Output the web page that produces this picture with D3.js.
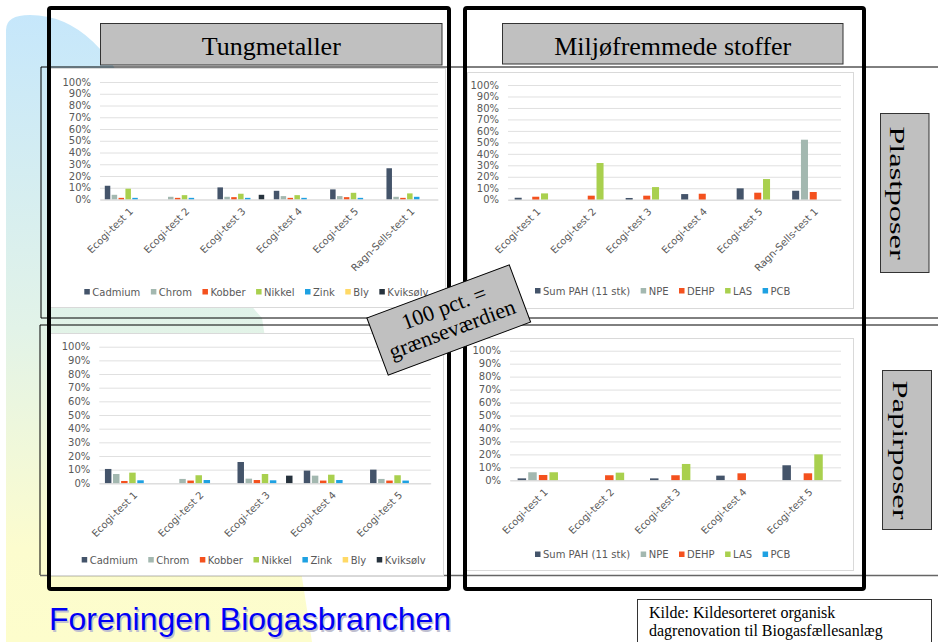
<!DOCTYPE html>
<html>
<head>
<meta charset="utf-8">
<script src="https://cdn.jsdelivr.net/npm/d3@7"></script>
<style>
body { margin: 0; background: #fff; }
svg { display: block; }
</style>
</head>
<body>
<svg width="938" height="642"></svg>
<script>
// Series and categories
var metals = ["Cadmium", "Chrom", "Kobber", "Nikkel", "Zink", "Bly", "Kviksølv"];
var organics = ["Sum PAH (11 stk)", "NPE", "DEHP", "LAS", "PCB"];
var plastTests = ["Ecogi-test 1", "Ecogi-test 2", "Ecogi-test 3", "Ecogi-test 4", "Ecogi-test 5", "Ragn-Sells-test 1"];
var paperTests = ["Ecogi-test 1", "Ecogi-test 2", "Ecogi-test 3", "Ecogi-test 4", "Ecogi-test 5"];
var yTicks = [0, 10, 20, 30, 40, 50, 60, 70, 80, 90, 100];

// values in % of limit value, one row per series
var plastMetals = [
    [11.7, 0, 10.3, 7.4, 8.6, 26.6],   // Cadmium
    [4.0, 2.3, 2.3, 2.9, 2.9, 2.3],    // Chrom
    [1.4, 1.4, 2.0, 1.4, 2.0, 1.4],    // Kobber
    [9.2, 3.7, 4.9, 3.7, 5.7, 5.2],    // Nikkel
    [1.4, 1.4, 1.4, 1.4, 1.4, 2.3],    // Zink
    [0, 0, 0, 0, 0, 0],                // Bly
    [0, 0, 4.0, 0, 0, 0]               // Kviksølv
];
var plastOrganics = [
    [1.7, 0, 1.5, 4.9, 9.9, 7.8],      // Sum PAH
    [0, 0, 0, 0, 0, 52.3],             // NPE
    [2.6, 3.5, 3.5, 5.2, 6.1, 6.7],    // DEHP
    [5.5, 32, 11, 0, 18, 0],           // LAS
    [0, 0, 0, 0, 0, 0]                 // PCB
];
var paperMetals = [
    [10.5, 0, 15.6, 9.3, 10.0],
    [6.8, 3.2, 3.4, 5.6, 3.2],
    [1.7, 2.0, 2.4, 2.0, 2.0],
    [7.8, 5.9, 6.8, 6.3, 5.9],
    [2.2, 2.4, 2.2, 2.4, 2.0],
    [0, 0, 0, 0, 0],
    [0, 0, 5.6, 0, 0]
];
var paperOrganics = [
    [1.5, 0, 1.5, 3.6, 11.6],
    [6.2, 0, 0, 0, 0],
    [4.1, 3.9, 3.9, 5.4, 5.4],
    [6.2, 5.9, 12.6, 0, 20.0],
    [0, 0, 0, 0, 0]
];

var palette = ["#44546a", "#a3b8b0", "#f4511e", "#a9d04e", "#1ea1e2", "#ffd966", "#26323d"];

var svg = d3.select("svg");
var gray = "#595959";
var chartFont = "DejaVu Sans, Verdana, sans-serif";
var serif = "Liberation Serif, Times New Roman, serif";

// background shape on the left (blue -> green -> yellow)
var defs = svg.append("defs");
var grad = defs.append("linearGradient").attr("id", "bg").attr("x1", 0).attr("y1", 0).attr("x2", 0).attr("y2", 1);
grad.append("stop").attr("offset", "0%").attr("stop-color", "#c6e7fb");
grad.append("stop").attr("offset", "50%").attr("stop-color", "#e2f3e8");
grad.append("stop").attr("offset", "85%").attr("stop-color", "#fcfcce");
grad.append("stop").attr("offset", "100%").attr("stop-color", "#fdfdcc");

svg.append("path")
    .attr("d", "M6,642 V30 Q6,15 30,15 Q100,15 142,122 Q200,250 262,318 L312,642 Z")
    .attr("fill", "url(#bg)");

// thin borders of the embedded chart objects
svg.append("path")
    .attr("d", "M41,67 H938 M41,67 V318 M41,318 H938 M40,325 H938 M40,325 V575")
    .attr("fill", "none").attr("stroke", "#000").attr("stroke-width", 1);
svg.append("path")
    .attr("d", "M40,575.5 H938")
    .attr("fill", "none").attr("stroke", "#666").attr("stroke-width", 1.5);

function drawChart(o) {
    var g = svg.append("g");
    g.append("rect")
        .attr("x", o.area[0] + 0.5).attr("y", o.area[1] + 0.5)
        .attr("width", o.area[2] - o.area[0]).attr("height", o.area[3] - o.area[1])
        .attr("fill", "#fff").attr("stroke", "#d9d9d9");

    var x = d3.scaleBand().domain(o.cats).range([o.x0, o.x1])
        .paddingInner(o.gap).paddingOuter(o.gap / 2);
    var xs = d3.scaleBand().domain(o.series).range([0, x.bandwidth()]).paddingInner(0.2);
    var y = d3.scaleLinear().domain([0, 100]).range([o.y0, o.y1]);

    // gridlines + percent labels
    var ya = g.append("g")
        .attr("transform", "translate(" + o.x0 + ",0)")
        .call(d3.axisLeft(y).tickValues(yTicks).tickSize(-(o.x1 - o.x0)).tickPadding(9)
            .tickFormat(function(d) { return d + "%"; }));
    ya.select(".domain").remove();
    ya.selectAll("line").attr("stroke", "#e0e0e0");
    ya.selectAll("text").attr("fill", gray).style("font", "10px " + chartFont);

    // bars
    o.values.forEach(function(row, i) {
        g.append("g").selectAll("rect")
            .data(row)
            .enter().append("rect")
            .attr("x", function(d, j) { return x(o.cats[j]) + xs(o.series[i]); })
            .attr("y", function(d) { return y(d); })
            .attr("width", xs.bandwidth())
            .attr("height", function(d) { return o.y0 - y(d); })
            .attr("fill", palette[i]);
    });

    // category axis
    var xa = g.append("g")
        .attr("transform", "translate(0," + o.y0 + ")")
        .call(d3.axisBottom(x).tickSize(0).tickSizeOuter(0));
    xa.select(".domain").attr("stroke", "#d9d9d9");
    xa.selectAll("text")
        .attr("y", 0).attr("dy", "0.35em")
        .attr("text-anchor", "end")
        .attr("transform", "translate(3,10) rotate(-45)")
        .attr("fill", gray).style("font", "10px " + chartFont);

    // legend
    var lx = o.legX;
    o.series.forEach(function(s, i) {
        g.append("rect").attr("x", lx).attr("y", o.legY - 3).attr("width", 5.5).attr("height", 5.5)
            .attr("fill", palette[i]);
        var t = g.append("text").attr("x", lx + 8).attr("y", o.legY).attr("dy", "0.35em")
            .attr("fill", gray).style("font", "10px " + chartFont).text(s);
        lx += 8 + t.node().getComputedTextLength() + 10.5;
    });
}

drawChart({ cats: plastTests, series: metals, values: plastMetals,
    area: [50, 68, 445, 307], x0: 100, x1: 438, y0: 199.5, y1: 82, gap: 0.17,
    legX: 84.3, legY: 292 });
drawChart({ cats: plastTests, series: organics, values: plastOrganics,
    area: [467, 72, 853, 308], x0: 508, x1: 841, y0: 199.7, y1: 85, gap: 0.24,
    legX: 535, legY: 291 });
drawChart({ cats: paperTests, series: metals, values: paperMetals,
    area: [50, 333, 443, 575], x0: 99.3, x1: 430.7, y0: 483.3, y1: 346.7, gap: 0.17,
    legX: 81.7, legY: 560 });
drawChart({ cats: paperTests, series: organics, values: paperOrganics,
    area: [465, 338, 853, 570], x0: 510, x1: 841, y0: 480.3, y1: 350.7, gap: 0.23,
    legX: 535, legY: 554.5 });

// section headers
function header(x, y, w, h, label) {
    svg.append("rect").attr("x", x).attr("y", y).attr("width", w).attr("height", h)
        .attr("fill", "#c0c0c0").attr("stroke", "#333").attr("stroke-width", 1);
    svg.append("text").attr("x", x + w / 2).attr("y", y + 31)
        .attr("text-anchor", "middle").style("font", "26px " + serif).attr("fill", "#000")
        .text(label);
}
header(100.5, 23.5, 341.5, 41.5, "Tungmetaller");
header(502.5, 23.5, 340.5, 40.5, "Miljøfremmede stoffer");

// vertical row labels
function sideLabel(x, y, w, h, label) {
    svg.append("rect").attr("x", x).attr("y", y).attr("width", w).attr("height", h)
        .attr("fill", "#c0c0c0").attr("stroke", "#333").attr("stroke-width", 1);
    svg.append("text")
        .attr("transform", "translate(" + (x + w / 2 - 7) + "," + (y + h / 2) + ") rotate(90) scale(1.55,1)")
        .attr("text-anchor", "middle").attr("dy", "0.35em")
        .style("font", "21px " + serif).attr("fill", "#000")
        .text(label);
}
sideLabel(880.5, 113.5, 48.5, 159, "Plastposer");
sideLabel(882.5, 370.5, 49, 159, "Papirposer");

// thick frames
svg.append("rect").attr("x", 49).attr("y", 8).attr("width", 400).attr("height", 581).attr("rx", 2)
    .attr("fill", "none").attr("stroke", "#000").attr("stroke-width", 4);
svg.append("rect").attr("x", 465).attr("y", 8).attr("width", 399).attr("height", 581).attr("rx", 2)
    .attr("fill", "none").attr("stroke", "#000").attr("stroke-width", 4);

// rotated note
var note = svg.append("g").attr("transform", "translate(448.75,320) rotate(-20.5)");
note.append("rect").attr("x", -76).attr("y", -30.5).attr("width", 152).attr("height", 61)
    .attr("fill", "#c0c0c0").attr("stroke", "#000");
note.append("text").attr("x", 0).attr("y", -6).attr("text-anchor", "middle")
    .style("font", "22px " + serif).text("100 pct. =");
note.append("text").attr("x", 0).attr("y", 17).attr("text-anchor", "middle")
    .style("font", "22px " + serif).text("grænseværdien");

// footer
svg.append("text").attr("x", 50.5).attr("y", 631.5)
    .style("font", "32px Liberation Sans, Arial, sans-serif").attr("fill", "#c0c0d0")
    .text("Foreningen Biogasbranchen");
svg.append("text").attr("x", 49).attr("y", 630)
    .style("font", "32px Liberation Sans, Arial, sans-serif").attr("fill", "#0000f5")
    .text("Foreningen Biogasbranchen");

svg.append("rect").attr("x", 637.5).attr("y", 599.5).attr("width", 294).attr("height", 50)
    .attr("fill", "#fff").attr("stroke", "#333");
svg.append("text").attr("x", 649).attr("y", 618).style("font", "16px " + serif)
    .text("Kilde: Kildesorteret organisk");
svg.append("text").attr("x", 649).attr("y", 636).style("font", "16px " + serif)
    .text("dagrenovation til Biogasfællesanlæg");
</script>
</body>
</html>
